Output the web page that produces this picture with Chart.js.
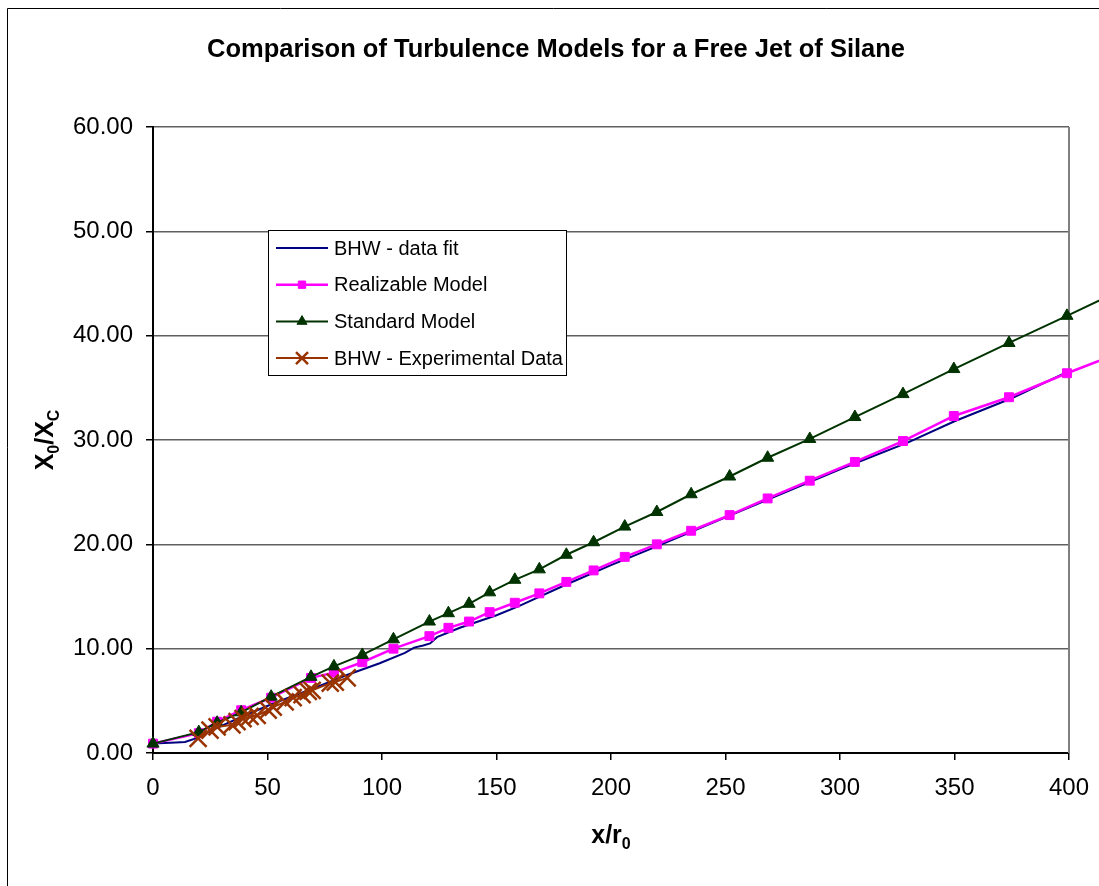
<!DOCTYPE html>
<html>
<head>
<meta charset="utf-8">
<script src="https://cdn.jsdelivr.net/npm/chart.js@4"></script>
<style>
  html, body { margin: 0; padding: 0; background: #fff; }
  #wrap { width: 1099px; height: 886px; position: relative; }
</style>
</head>
<body>
<div id="wrap"><canvas id="chart" width="1099" height="886"></canvas></div>
<script>
// x/r0 positions shared by both CFD models
const modelX = [0, 20, 28, 38.5, 51.6, 69, 79, 91.4, 105, 120.7, 129, 138, 147, 158, 168.7,
  180.5, 192.4, 206, 220, 235, 251.8, 268.4, 286.8, 306.5, 327.5, 349.7, 373.8, 399.1, 425];
const realizableY = [0.9, 1.9, 3.0, 4.1, 5.3, 7.2, 7.7, 8.7, 10.0, 11.2, 12.0, 12.6, 13.5, 14.4, 15.3,
  16.4, 17.5, 18.8, 20.0, 21.3, 22.8, 24.4, 26.1, 27.9, 29.9, 32.3, 34.1, 36.4, 38.6];
const standardY = [0.9, 2.0, 2.9, 3.9, 5.4, 7.3, 8.3, 9.4, 10.9, 12.6, 13.4, 14.3, 15.4, 16.6, 17.6,
  19.0, 20.2, 21.7, 23.1, 24.8, 26.5, 28.3, 30.1, 32.2, 34.4, 36.8, 39.3, 41.9, 44.6];

// BHW correlation (data fit)
const fitX = [0, 5, 10, 14, 20, 28, 39, 52, 58, 70, 85, 99, 110, 114, 118, 121, 124, 134, 150, 160,
  180, 200, 220, 250, 300, 330, 350, 375, 400, 425];
const fitY = [0.9, 0.95, 1.0, 1.05, 1.5, 2.4, 3.5, 4.7, 5.2, 6.2, 7.5, 8.6, 9.6, 10.1, 10.3, 10.5, 11.1, 12.0, 13.2, 14.1,
  16.1, 18.0, 19.8, 22.6, 27.2, 29.8, 31.8, 34.0, 36.6, 39.0];

// BHW experimental points
const expX = [19.7, 24.9, 28, 34.5, 36.7, 39.3, 42.4, 45.5, 50.3, 52.5, 57.7, 61.2, 65.1, 67.8, 69.5, 77.4, 79.6, 84.8];
const expY = [1.4, 2.2, 2.5, 2.7, 3.0, 3.3, 3.5, 3.6, 4.1, 4.4, 4.9, 5.3, 5.6, 5.9, 6.0, 6.7, 6.8, 7.2];

const xTicksMin = 0, xTicksMax = 400, xStep = 50;
const yTicksMin = 0, yTicksMax = 60, yStep = 10;

const titleText = 'Comparison of Turbulence Models for a Free Jet of Silane';
const FONT = '"Liberation Sans", Arial, Helvetica, sans-serif';

const pts = (xs, ys) => xs.map((x, i) => ({ x, y: ys[i] }));

// frame, title, plot border, axis titles with subscripts, and the boxed legend
const decorations = {
  id: 'decorations',
  beforeDraw(chart) {
    const ctx = chart.ctx;
    ctx.save();
    ctx.fillStyle = '#fff';
    ctx.fillRect(0, 0, chart.width, chart.height);
    ctx.strokeStyle = '#000';
    ctx.lineWidth = 1;
    ctx.beginPath();
    ctx.moveTo(7.5, chart.height);
    ctx.lineTo(7.5, 8.5);
    ctx.lineTo(chart.width, 8.5);
    ctx.stroke();
    // title, centred on the outer frame like the original
    ctx.fillStyle = '#000';
    ctx.font = 'bold 25.5px ' + FONT;
    ctx.textAlign = 'center';
    ctx.textBaseline = 'alphabetic';
    ctx.fillText(titleText, 556, 57);
    ctx.restore();
  },
  beforeDatasetsDraw(chart) {
    const { ctx, chartArea: a } = chart;
    ctx.save();
    ctx.strokeStyle = '#808080';
    ctx.lineWidth = 2;
    ctx.beginPath();
    ctx.moveTo(a.right, a.top);
    ctx.lineTo(a.right, a.bottom);
    ctx.stroke();
    ctx.restore();
  },
  afterDraw(chart) {
    const { ctx, chartArea: a } = chart;
    ctx.save();
    ctx.fillStyle = '#000';
    ctx.textBaseline = 'alphabetic';

    // y title: X0/XC
    const big = 'bold 25px ' + FONT, small = 'bold 16px ' + FONT;
    const parts = [['X', big, 0], ['0', small, 6], ['/X', big, 0], ['C', small, 6]];
    let w = parts.reduce((s, p) => { ctx.font = p[1]; return s + ctx.measureText(p[0]).width; }, 0);
    ctx.translate(53, (a.top + a.bottom) / 2);
    ctx.rotate(-Math.PI / 2);
    let cx = -w / 2;
    parts.forEach(p => { ctx.font = p[1]; ctx.fillText(p[0], cx, p[2]); cx += ctx.measureText(p[0]).width; });
    ctx.setTransform(1, 0, 0, 1, 0, 0);

    // x title: x/r0
    const xparts = [['x/r', big, 0], ['0', small, 6]];
    w = xparts.reduce((s, p) => { ctx.font = p[1]; return s + ctx.measureText(p[0]).width; }, 0);
    cx = (a.left + a.right) / 2 - w / 2;
    xparts.forEach(p => { ctx.font = p[1]; ctx.fillText(p[0], cx, 843 + p[2]); cx += ctx.measureText(p[0]).width; });

    // legend box
    const lx = 268.5, ly = 230.5, lw = 298, lh = 145;
    ctx.fillStyle = '#fff';
    ctx.fillRect(lx, ly, lw, lh);
    ctx.strokeStyle = '#000';
    ctx.lineWidth = 1;
    ctx.strokeRect(lx, ly, lw, lh);
    ctx.font = '20px ' + FONT;
    ctx.textBaseline = 'middle';
    chart.data.datasets.forEach((ds, i) => {
      const y = 248 + i * 36.7;
      ctx.strokeStyle = ds.borderColor;
      ctx.lineWidth = ds.borderWidth;
      ctx.beginPath();
      ctx.moveTo(276, y);
      ctx.lineTo(328, y);
      ctx.stroke();
      if (ds.pointRadius > 0) {
        ctx.fillStyle = ds.pointBackgroundColor;
        ctx.strokeStyle = ds.pointBorderColor;
        ctx.lineWidth = ds.pointBorderWidth;
        Chart.helpers.drawPoint(ctx, {
          pointStyle: ds.pointStyle, radius: ds.legendRadius, rotation: 0,
          borderWidth: ds.pointBorderWidth
        }, 302, y);
      }
      ctx.fillStyle = '#000';
      ctx.fillText(ds.label, 334, y + 1);
    });
    ctx.restore();
  }
};

const datasets = [
  {
    label: 'BHW - data fit',
    data: pts(fitX, fitY),
    borderColor: '#000080', borderWidth: 2,
    pointRadius: 0, legendRadius: 0, order: 4
  },
  {
    label: 'Realizable Model',
    data: pts(modelX, realizableY),
    borderColor: '#ff00ff', borderWidth: 2.5,
    pointStyle: 'rect', pointRadius: 6.3, legendRadius: 5.2,
    pointBackgroundColor: '#ff00ff', pointBorderColor: '#ff00ff', pointBorderWidth: 1, order: 3
  },
  {
    label: 'Standard Model',
    data: pts(modelX, standardY),
    borderColor: '#003300', borderWidth: 2,
    pointStyle: 'triangle', pointRadius: 7, legendRadius: 5.8,
    pointBackgroundColor: '#003300', pointBorderColor: '#003300', pointBorderWidth: 1, order: 2
  },
  {
    label: 'BHW - Experimental Data',
    data: pts(expX, expY),
    borderColor: '#993300', borderWidth: 2,
    pointStyle: 'crossRot', pointRadius: 12, legendRadius: 8.5,
    pointBackgroundColor: '#993300', pointBorderColor: '#993300', pointBorderWidth: 2.5, order: 1
  }
].map(ds => Object.assign({ type: 'line', fill: false, tension: 0, clip: false, pointHoverRadius: ds.pointRadius }, ds));

new Chart(document.getElementById('chart'), {
  type: 'line',
  data: { datasets },
  plugins: [decorations],
  options: {
    responsive: false,
    animation: false,
    devicePixelRatio: 1,
    layout: { padding: { left: 0, right: 30, top: 127, bottom: 0 } },
    plugins: {
      legend: { display: false },
      tooltip: { enabled: false },
      title: { display: false }
    },
    scales: {
      x: {
        type: 'linear',
        min: xTicksMin, max: xTicksMax,
        afterFit: s => { s.height = 133; s.paddingRight = 0; s.paddingLeft = 0; },
        ticks: { stepSize: xStep, color: '#000', padding: 14, font: { family: FONT, size: 24 } },
        grid: { drawOnChartArea: false, color: '#000', tickLength: 7, lineWidth: 1.5 },
        border: { color: '#000', width: 2 }
      },
      y: {
        min: yTicksMin, max: yTicksMax,
        afterFit: s => { s.width = 153; },
        ticks: {
          stepSize: yStep, color: '#000', padding: 13,
          font: { family: FONT, size: 24 },
          callback: v => v.toFixed(2)
        },
        grid: { color: '#606060', lineWidth: 1.5, tickColor: '#000', tickLength: 7 },
        border: { color: '#000', width: 2 }
      }
    }
  }
});
</script>
</body>
</html>
